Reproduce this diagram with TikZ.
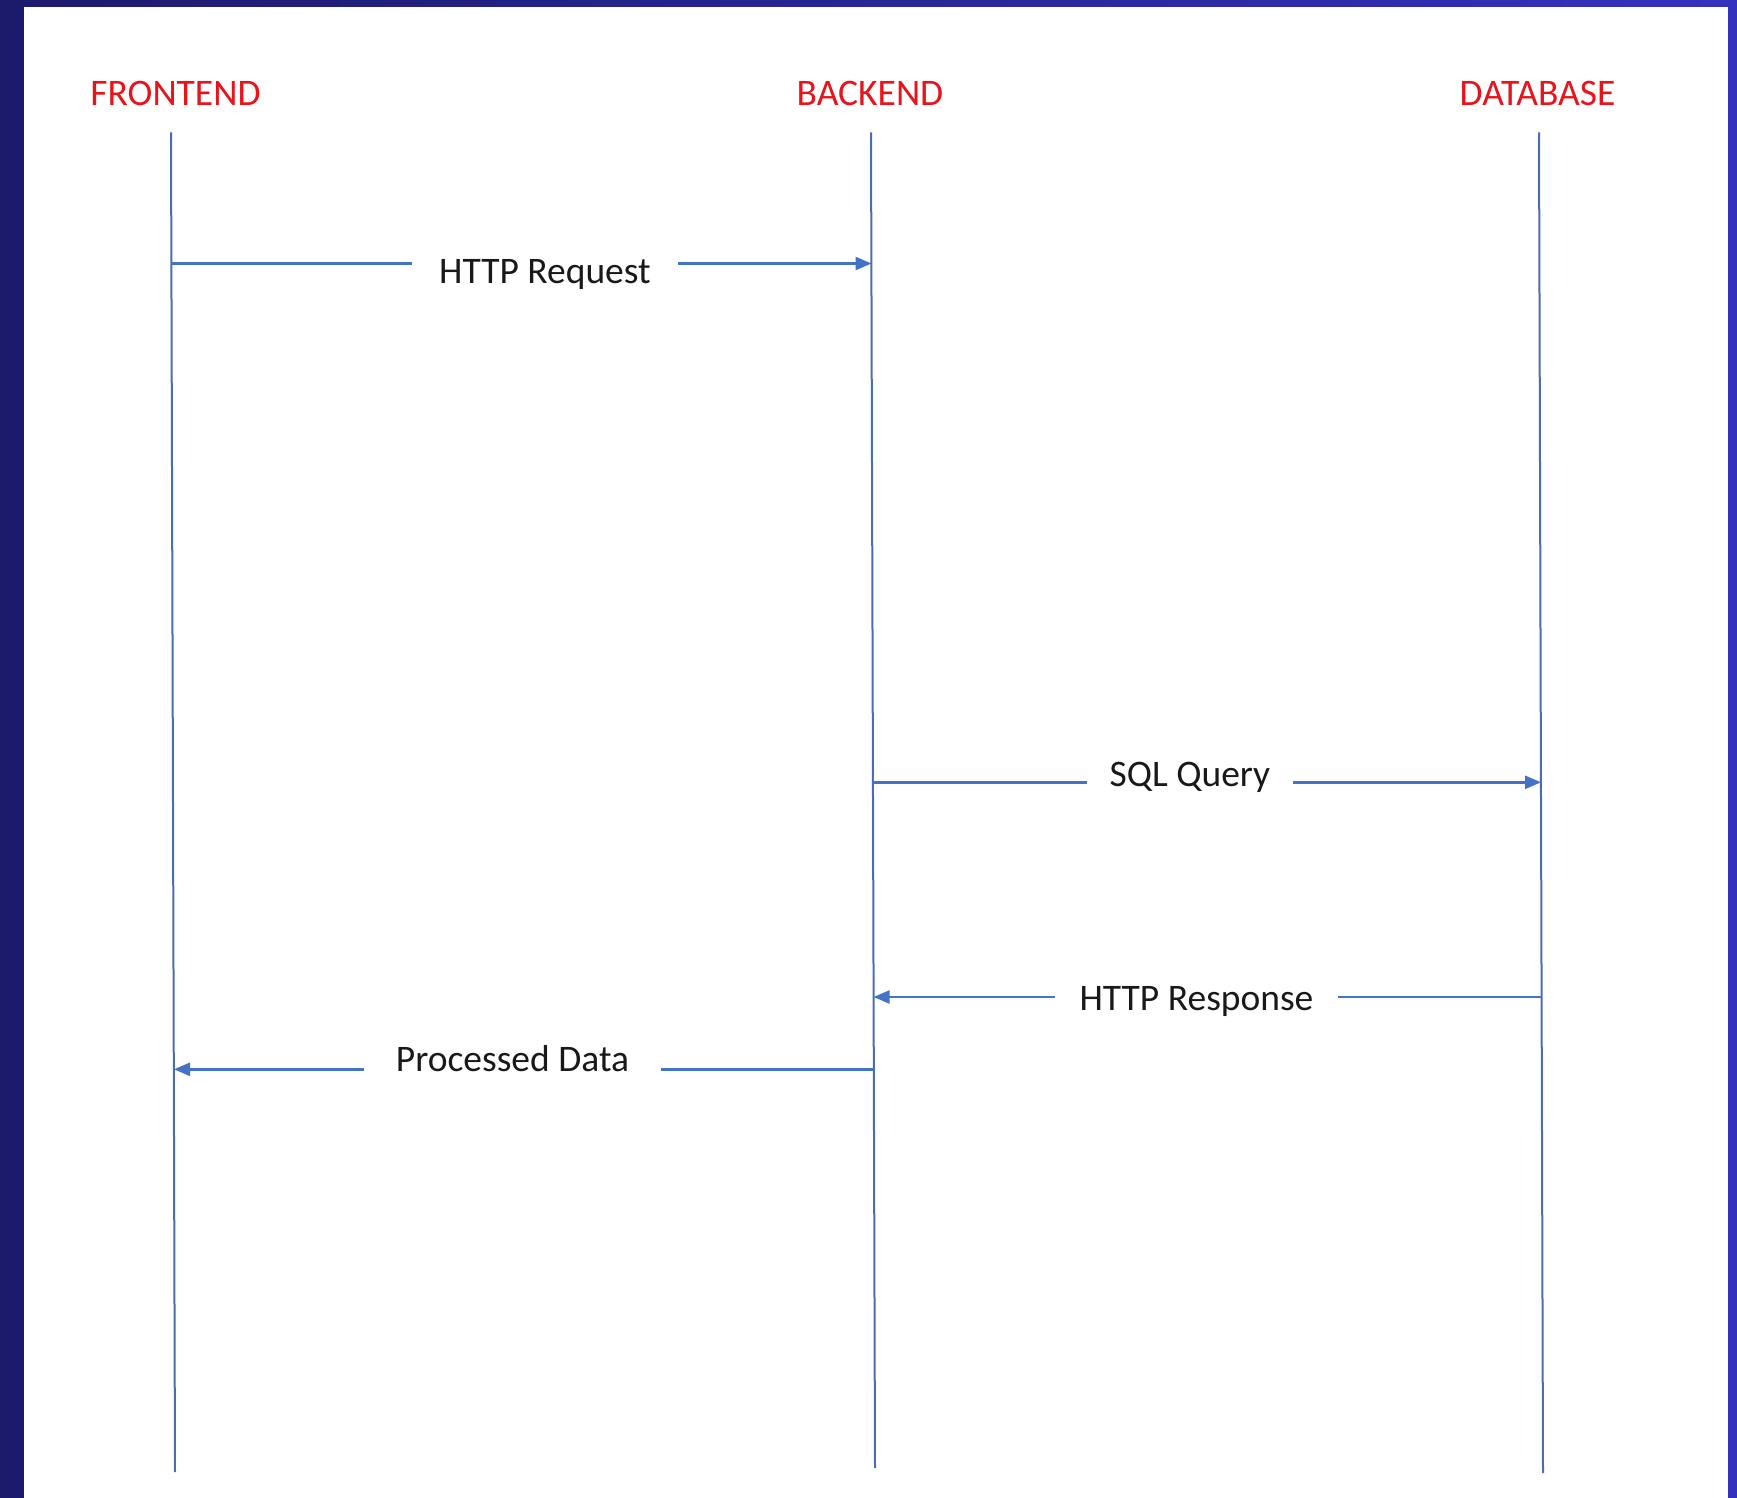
\documentclass[tikz,border=0pt]{standalone}
\usepackage{fontspec}
\setmainfont{Carlito}
\usetikzlibrary{arrows.meta}
\definecolor{frameleft}{HTML}{1C1A6B}
\definecolor{frameright}{HTML}{3531BF}
\definecolor{headred}{HTML}{E8141C}
\definecolor{lineblue}{HTML}{4472C4}
\definecolor{lifeblue}{HTML}{4A6CB4}
\tikzset{
  actor/.style={anchor=base, text=headred, inner ysep=26pt, font=\fontsize{37.5}{45}\selectfont},
  lifeline/.style={draw=lifeblue, line width=2pt},
  msg/.style={draw=lineblue, line width=2.5pt, -{Triangle[length=16pt,width=13pt]}},
  msglabel/.style={anchor=base, fill=white, inner ysep=4pt, text=black!90, font=\fontsize{37.5}{45}\selectfont}
}
\begin{document}
\begin{tikzpicture}[x=1pt,y=-1pt]
  \useasboundingbox (0,0) rectangle (1737,1498);
  \shade[left color=frameleft, right color=frameright] (0,0) rectangle (1737,1498);
  \fill[white] (24,7) rectangle (1728,1498);

  \node[actor] (fe) at (175.5,106) {FRONTEND};
  \node[actor] (be) at (870,106) {BACKEND};
  \node[actor] (db) at (1537.5,106) {DATABASE};
  \coordinate (fe end) at (175,1472);
  \coordinate (be end) at (875,1468);
  \coordinate (db end) at (1543,1473);
  \draw[lifeline] ([xshift=-4.5pt]fe.south) -- (fe end);
  \draw[lifeline] ([xshift=1pt]be.south) -- (be end);
  \draw[lifeline] ([xshift=1.5pt]db.south) -- (db end);

  % messages, the label boxes cut the gap in each line
  \coordinate (req a) at (171.5,263.5);   \coordinate (req b) at (871.5,263.5);
  \coordinate (sql a) at (873,782.3);     \coordinate (sql b) at (1541,782.3);
  \coordinate (resp a) at (1541.6,997);   \coordinate (resp b) at (873.6,997);
  \coordinate (data a) at (874,1069.3);   \coordinate (data b) at (174,1069.3);
  \draw[msg] (req a) -- (req b);
  \draw[msg] (sql a) -- (sql b);
  \draw[msg] (resp a) -- (resp b);
  \draw[msg] (data a) -- (data b);
  \node[msglabel, inner xsep=27pt] (req) at (544.9,283.3) {HTTP Request};
  \node[msglabel, inner xsep=23pt] (sql) at (1189.9,786.7) {SQL Query};
  \node[msglabel, inner xsep=24.5pt] (resp) at (1196.5,1010) {HTTP Response};
  \node[msglabel, inner xsep=32pt] (data) at (512.5,1071.7) {Processed Data};
\end{tikzpicture}
\end{document}
